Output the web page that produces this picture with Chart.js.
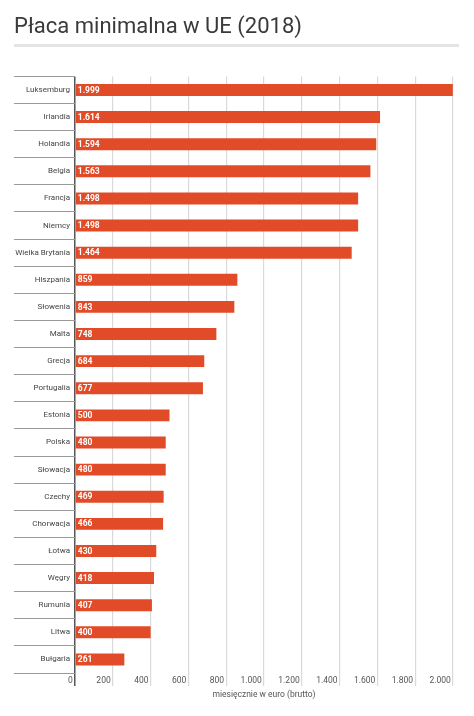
<!DOCTYPE html>
<html>
<head>
<meta charset="utf-8">
<script src="https://cdn.jsdelivr.net/npm/chart.js@4"></script>
<style>
  html, body { margin: 0; padding: 0; background: #fff; }
  #wrap { width: 474px; height: 716px; position: relative; }
</style>
</head>
<body>
<div id="wrap"><canvas id="chart"></canvas></div>
<script>
const countries = ['Luksemburg', 'Irlandia', 'Holandia', 'Belgia', 'Francja', 'Niemcy', 'Wielka Brytania',
  'Hiszpania', 'Słowenia', 'Malta', 'Grecja', 'Portugalia', 'Estonia', 'Polska', 'Słowacja',
  'Czechy', 'Chorwacja', 'Łotwa', 'Węgry', 'Rumunia', 'Litwa', 'Bułgaria'];
const wages = [1999, 1614, 1594, 1563, 1498, 1498, 1464, 859, 843, 748, 684, 677, 500, 480, 480,
  469, 466, 430, 418, 407, 400, 261];
const axisTicks = [0, 200, 400, 600, 800, 1000, 1200, 1400, 1600, 1800, 2000];

function fmt(v) {
  if (v < 1000) return String(v);
  let rest = String(v % 1000).padStart(3, '0');
  return Math.floor(v / 1000) + '.' + rest;
}

// grey line under the title
const underline = {
  id: 'underline',
  afterDraw(chart) {
    const ctx = chart.ctx;
    ctx.save();
    ctx.fillStyle = '#e4e4e4';
    ctx.fillRect(chart.titleBlock.left, 44, chart.width - 15 - chart.titleBlock.left, 3);
    ctx.restore();
  },
};

// value printed at the start of each bar
const barValues = {
  id: 'barValues',
  afterDatasetsDraw(chart) {
    const ctx = chart.ctx;
    const meta = chart.getDatasetMeta(0);
    ctx.save();
    ctx.fillStyle = '#fff';
    ctx.font = 'bold 8.5px Roboto';
    ctx.textAlign = 'left';
    ctx.textBaseline = 'middle';
    meta.data.forEach((bar, i) => {
      ctx.fillText(fmt(wages[i]), bar.base + 2, bar.y + 0.5);
    });
    ctx.restore();
  },
};

Chart.defaults.font.family = 'Roboto';
Chart.defaults.animation = false;

new Chart(document.getElementById('chart'), {
  type: 'bar',
  data: {
    labels: countries,
    datasets: [
      {
        data: wages,
        backgroundColor: '#e14b28',
        barPercentage: 0.44,
        categoryPercentage: 1,
      },
    ],
  },
  options: {
    indexAxis: 'y',
    responsive: true,
    maintainAspectRatio: false,
    layout: {
      padding: { left: 14, right: 21, top: 0, bottom: 13 },
    },
    scales: {
      x: {
        min: 0,
        max: 2000,
        afterBuildTicks: (scale) => {
          scale.ticks = axisTicks.map((v) => ({ value: v }));
        },
        afterFit: (scale) => {
          scale.height = 30;
        },
        border: { display: false },
        grid: {
          color: (c) => (c.index === 0 ? '#555' : '#d9d9d9'),
          lineWidth: (c) => (c.index === 0 ? 1.5 : 1.2),
          tickLength: 13,
        },
        ticks: {
          align: 'end',
          padding: -10,
          color: '#555',
          font: { size: 8.5 },
          callback: (v) => fmt(v) + ' ',
        },
        title: {
          display: true,
          text: 'miesięcznie w euro (brutto)',
          color: '#555',
          font: { size: 8.5 },
          padding: { top: 0, bottom: 3 },
        },
      },
      y: {
        afterFit: (scale) => {
          scale.width = 61;
        },
        border: { display: false },
        grid: {
          drawOnChartArea: false,
          color: '#9a9a9a',
          tickLength: 61,
        },
        ticks: {
          padding: -56,
          color: '#444',
          font: { size: 8 },
        },
      },
    },
    plugins: {
      legend: { display: false },
      tooltip: { enabled: false },
      title: {
        display: true,
        text: 'Płaca minimalna w UE (2018)',
        align: 'start',
        color: '#3a3a3a',
        font: { size: 22, weight: 'normal' },
        padding: { top: 14, bottom: 36 },
      },
    },
  },
  plugins: [underline, barValues],
});
</script>
</body>
</html>
